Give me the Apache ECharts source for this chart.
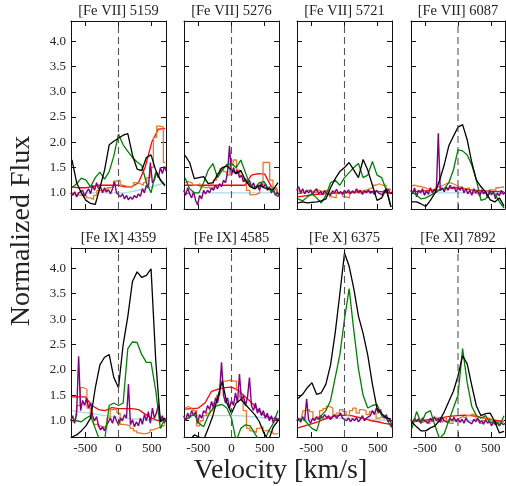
<!DOCTYPE html>
<html>
<head>
<meta charset="utf-8">
<script src="https://cdn.jsdelivr.net/npm/echarts@6/dist/echarts.min.js"></script>
<style>
html,body{margin:0;padding:0;background:#fff;}
#chart{width:506px;height:486px;}
</style>
</head>
<body>
<div id="chart"></div>
<script>
// ---------------- DATA ----------------
const panelTitles = ['[Fe VII] 5159','[Fe VII] 5276','[Fe VII] 5721','[Fe VII] 6087',
                     '[Fe IX] 4359','[Fe IX] 4585','[Fe X] 6375','[Fe XI] 7892'];
const xTickValues = [-500, 0, 500];
const yTickValues = [1.0, 1.5, 2.0, 2.5, 3.0, 3.5, 4.0];

// velocity grids (km/s)
const velBlackGreen = [-700,-630,-560,-490,-420,-350,-280,-210,-140,-70,0,70,140,210,280,350,420,490,560,630,700];
const velOrange = [-700,-650,-600,-550,-500,-450,-400,-350,-300,-250,-200,-150,-100,-50,0,50,100,150,200,250,300,350,400,450,500,550,600,650,700];
const velRed = [-700,-600,-500,-400,-300,-200,-100,0,100,200,300,400,500,600,700];
const velBlue = [-700,-500,-300,-100,100,300,500,700];
const velPurple = [-720,-690,-660,-630,-600,-570,-540,-510,-480,-450,-420,-390,-360,-330,-300,-270,-240,-210,-180,-150,-120,-90,-60,-30,0,30,60,90,120,150,180,210,240,270,300,330,360,390,420,450,480,510,540,570,600,630,660,690,720];

const blackFlux = [
  [1.65,1.2,1.0,0.85,0.79,0.77,1.1,1.45,1.95,2.02,2.08,2.14,2.17,1.75,1.47,1.44,1.7,1.75,1.45,1.25,1.15],
  [1.74,1.6,1.28,1.3,1.32,1.18,1.2,1.36,1.5,1.53,1.45,1.38,1.44,1.25,1.12,1.08,1.15,1.1,1.08,1.07,1.2],
  [0.8,0.82,0.8,0.81,0.82,0.84,0.88,1.1,1.28,1.42,1.5,1.6,1.45,1.3,1.66,1.45,1.15,0.85,0.9,1.08,0.72],
  [0.82,0.82,0.78,0.73,0.85,1.0,1.25,1.55,1.93,2.12,2.3,2.35,2.05,1.6,1.25,1.12,1.02,0.86,0.82,0.9,0.74],
  [0.68,0.72,0.8,0.9,1.05,1.64,2.1,2.25,2.3,1.85,1.65,2.5,3.05,3.74,3.93,3.82,3.86,3.99,2.2,0.98,1.05],
  [0.6,0.62,0.72,0.68,0.62,0.85,1.1,1.45,1.78,1.35,1.15,1.35,1.42,1.32,1.22,1.12,0.98,0.75,0.62,0.88,1.0],
  [1.44,1.52,1.65,1.75,1.52,1.55,1.72,2.1,2.73,3.5,4.3,4.04,3.6,3.06,2.72,2.29,1.72,1.24,1.14,1.06,1.03],
  [0.97,0.88,0.8,0.8,0.86,0.9,1.01,1.17,1.38,1.58,1.88,2.28,2.12,1.69,1.29,1.1,1.14,1.15,0.98,0.76,0.79]
];
const greenFlux = [
  [1.1,1.18,1.29,1.25,1.12,1.3,1.41,1.27,1.42,1.73,2.16,1.95,1.82,1.7,1.61,1.54,1.2,1.0,1.41,1.27,1.13],
  [1.3,1.08,1.0,1.0,1.2,1.45,1.58,1.3,1.45,1.56,1.58,1.5,1.65,1.4,1.15,1.1,1.2,1.22,1.07,1.03,0.92],
  [0.88,0.84,0.92,0.98,0.9,0.8,0.95,1.2,1.25,1.15,1.3,1.4,1.5,1.58,1.3,1.35,1.62,1.35,1.3,1.05,0.72],
  [1.02,0.95,0.88,0.9,0.95,1.0,1.05,1.08,1.2,1.45,1.85,1.83,1.75,1.55,1.25,0.85,0.88,1.0,0.98,0.82,0.7],
  [1.05,1.0,0.98,1.05,1.1,0.85,0.6,0.6,1.3,1.35,1.3,1.35,2.42,2.55,2.54,2.3,2.15,2.15,1.6,0.85,1.05],
  [1.0,1.08,1.12,0.95,0.88,1.1,1.25,1.3,1.32,1.25,1.05,0.6,0.85,0.92,0.9,0.75,0.6,0.6,0.8,0.95,1.2],
  [1.0,1.05,0.95,0.85,0.8,1.1,1.2,1.4,1.85,2.3,3.0,3.6,2.78,2.02,1.5,1.25,1.3,1.32,1.1,1.05,0.88],
  [0.85,1.18,0.95,1.15,1.2,0.9,0.65,0.75,1.0,1.25,1.5,2.42,1.75,1.28,1.1,1.05,1.1,0.95,1.0,0.9,1.1]
];
const orangeFlux = [
  [1.0,0.97,0.96,0.95,0.98,0.9,0.87,0.95,1.05,1.05,1.02,1.1,1.12,1.23,1.25,1.15,1.13,1.12,1.13,1.2,1.18,1.15,1.2,1.3,1.5,2.1,2.32,2.3,1.6],
  [1.2,1.22,1.2,1.15,1.18,1.12,1.1,1.12,1.08,1.25,1.38,1.48,1.42,1.35,1.55,1.65,1.45,1.32,1.22,1.05,0.96,0.97,1.0,1.15,1.6,1.6,1.25,1.1,1.02],
  [1.05,1.02,1.0,1.05,1.03,1.0,1.05,1.02,1.0,1.05,0.92,0.9,1.0,0.98,0.92,0.9,1.02,1.0,1.05,1.0,1.05,1.08,1.1,1.15,1.18,1.15,1.15,1.08,1.05],
  [1.14,1.15,1.13,1.12,1.1,1.08,1.05,1.08,1.12,1.15,1.18,1.2,1.18,1.15,1.12,1.1,1.08,1.1,1.05,1.0,0.98,1.0,1.03,1.02,1.06,1.05,1.1,1.12,1.1],
  [0.97,1.0,1.3,1.65,1.62,1.25,1.05,0.93,0.9,0.88,0.88,1.05,1.22,1.23,1.15,0.93,0.92,0.9,0.85,0.8,0.76,0.74,0.75,0.77,0.82,0.85,0.87,0.9,0.92],
  [1.25,1.28,1.25,1.2,0.9,1.0,1.1,1.15,1.2,1.35,1.5,1.72,1.78,1.8,1.78,1.78,1.6,1.45,1.2,0.85,0.8,0.77,0.85,0.88,0.8,0.82,0.78,0.74,0.75],
  [1.02,1.05,1.2,1.22,1.18,1.05,1.08,1.2,1.24,1.28,1.25,1.1,1.15,1.22,1.18,1.1,1.2,1.25,1.15,1.22,1.2,1.12,1.18,1.15,1.05,1.08,1.05,1.02,1.0],
  [1.0,0.98,1.02,0.97,1.0,0.95,1.0,1.05,1.02,0.98,1.05,1.0,0.95,1.02,1.05,1.08,1.05,1.1,1.13,1.1,1.02,0.95,1.0,1.05,1.02,0.98,0.95,0.98,1.0]
];
const redFlux = [
  [1.12,1.1,1.1,1.12,1.15,1.15,1.15,1.15,1.12,1.12,1.2,1.5,2.0,2.26,2.27],
  [1.15,1.15,1.15,1.15,1.15,1.15,1.15,1.15,1.15,1.15,1.35,1.38,1.37,1.12,1.05],
  [0.92,0.94,0.96,0.97,0.98,0.99,1.0,1.0,1.01,1.02,1.02,1.03,1.03,1.02,1.0],
  [1.03,1.03,1.04,1.05,1.06,1.08,1.1,1.1,1.08,1.06,1.05,1.04,1.03,1.03,1.02],
  [1.47,1.47,1.47,1.3,1.22,1.2,1.26,1.24,1.24,1.24,1.22,1.13,1.05,1.0,1.05],
  [1.23,1.24,1.25,1.35,1.58,1.62,1.65,1.66,1.6,1.48,1.36,1.2,1.1,1.05,1.03],
  [0.86,0.9,0.94,0.98,1.03,1.07,1.1,1.11,1.1,1.07,1.04,1.0,0.98,0.95,0.93],
  [0.98,1.0,1.01,1.03,1.05,1.07,1.09,1.1,1.11,1.1,1.08,1.05,1.02,1.0,0.98]
];
const blueFlux = [
  [1.0,1.0,1.0,1.0,1.0,1.05,1.12,1.2],
  [1.0,1.0,1.0,1.0,1.0,1.0,1.0,1.0],
  [1.0,1.0,1.0,1.0,1.0,1.0,1.0,1.0],
  [1.0,1.0,1.0,1.0,1.0,1.0,1.0,1.0],
  [1.2,1.16,1.12,1.08,1.05,1.03,1.01,1.0],
  [1.1,1.1,1.1,1.1,1.1,1.08,1.06,1.04],
  [1.0,1.02,1.04,1.05,1.05,1.04,1.02,1.0],
  [1.0,1.0,1.0,1.0,1.0,1.0,1.0,1.0]
];
const purpleFlux = [
  [1.0,0.95,1.02,0.92,1.0,0.97,1.05,0.93,1.02,1.08,0.98,1.15,1.05,1.2,1.08,1.12,1.0,1.1,1.02,1.06,0.98,1.08,1.22,1.0,1.02,0.92,0.98,0.88,0.95,0.86,0.92,0.87,0.95,0.9,0.98,0.93,1.08,1.0,1.15,1.1,1.6,1.2,1.25,1.4,1.3,1.5,1.38,1.52,1.42],
  [1.05,0.95,1.1,0.98,0.9,1.02,0.85,0.76,0.95,0.88,1.05,0.98,1.05,1.0,1.1,1.05,1.15,1.08,1.18,1.12,1.25,1.2,1.4,1.93,1.35,1.5,1.38,1.45,1.3,1.35,1.22,1.28,1.18,1.25,1.12,1.2,1.08,1.15,1.05,1.2,1.1,1.18,1.05,1.12,1.0,1.08,0.95,1.02,0.92],
  [1.05,1.12,1.0,1.08,0.98,1.05,1.0,1.06,0.97,1.04,1.08,0.98,1.03,0.96,1.05,0.99,1.02,0.95,1.04,1.0,1.07,0.98,1.03,0.97,1.05,1.0,1.06,0.98,1.04,0.99,1.08,1.0,1.05,0.97,1.04,1.0,1.06,0.99,1.03,0.97,1.05,1.0,1.02,0.96,1.05,1.0,1.07,0.98,1.02],
  [1.05,0.98,1.1,0.92,1.05,1.0,1.08,0.95,1.04,0.97,1.1,1.0,1.07,1.0,2.18,1.05,1.1,1.02,1.12,1.05,1.15,1.08,1.12,1.02,1.1,1.05,1.12,1.0,1.08,0.98,1.05,0.95,1.08,1.0,1.04,0.93,1.06,0.98,1.02,0.9,1.05,0.96,1.03,0.88,1.0,0.94,1.05,0.97,1.02],
  [1.0,1.1,0.95,1.15,2.27,1.2,1.4,1.3,1.45,1.25,1.35,1.1,1.0,1.08,0.9,0.82,0.88,0.8,0.92,0.98,1.05,0.95,1.1,1.0,0.92,1.05,1.0,1.12,1.05,1.72,0.92,1.02,0.88,0.98,0.9,1.05,0.93,1.12,1.0,1.18,0.95,1.25,1.05,1.15,1.32,1.0,1.1,0.95,1.05],
  [1.1,1.0,1.15,1.05,1.2,1.1,1.18,0.95,1.12,1.05,1.2,1.15,1.3,1.22,1.38,1.25,1.45,1.35,1.55,2.15,1.5,1.35,1.45,1.25,1.4,1.3,1.55,1.35,1.92,1.4,1.5,1.3,1.45,1.85,1.3,1.2,1.35,1.15,1.25,1.1,1.2,1.05,1.15,1.0,1.1,0.95,1.08,1.0,1.05],
  [1.0,1.05,0.97,1.08,1.0,1.43,1.02,0.95,1.05,1.0,1.08,1.02,1.1,1.05,1.12,1.06,1.1,1.02,1.08,1.12,1.05,1.1,1.15,1.05,1.08,1.0,1.05,0.98,1.04,1.0,1.06,0.98,1.03,1.1,1.0,1.05,1.02,1.1,1.2,1.12,1.25,1.15,1.22,1.1,1.05,1.12,0.98,1.02,0.85],
  [1.02,0.97,1.05,0.98,1.04,0.95,1.06,1.0,1.03,0.96,1.05,0.99,1.08,1.0,1.04,0.97,1.06,1.0,1.03,0.96,1.05,1.0,1.07,0.98,1.04,0.97,1.03,0.95,1.05,0.99,1.02,0.94,1.03,0.98,1.05,0.96,1.0,0.93,1.02,0.95,1.0,0.9,0.98,0.92,0.97,0.9,0.96,0.92,0.95]
];

// ---------------- LAYOUT / STYLE ----------------
const FONT = '"Liberation Serif", "DejaVu Serif", serif';
const panelLefts = [71, 184, 297, 411];
const panelWidths = [95, 95, 95, 94];
const rowTops = [21, 248];
const rowHeights = [188, 189];
const X_MIN = -715, X_MAX = 715, Y_MIN = 0.68, Y_MAX = 4.4;

const grids = [], xAxes = [], yAxes = [], series = [], graphics = [];

function pairs(xs, ys) { return xs.map((x, i) => [x, ys[i]]); }

for (let p = 0; p < 8; p++) {
  const row = Math.floor(p / 4), col = p % 4;
  grids.push({left: panelLefts[col], top: rowTops[row], width: panelWidths[col], height: rowHeights[row], show: false});
  const axisLine = {show: true, onZero: false, lineStyle: {color: '#111', width: 1}};
  ['bottom', 'top'].forEach(pos => {
    xAxes.push({
      gridIndex: p, type: 'value', position: pos, min: X_MIN, max: X_MAX,
      axisLine: axisLine,
      axisTick: {show: true, inside: true, length: 5, customValues: xTickValues, lineStyle: {color: '#111', width: 1}},
      axisLabel: {show: pos === 'bottom' && row === 1, customValues: xTickValues, margin: 5,
                  fontFamily: FONT, fontSize: 13, color: '#222', formatter: v => String(v)},
      splitLine: {show: false}
    });
  });
  ['left', 'right'].forEach(pos => {
    yAxes.push({
      gridIndex: p, type: 'value', position: pos, min: Y_MIN, max: Y_MAX,
      axisLine: axisLine,
      axisTick: {show: true, inside: true, length: 5, customValues: yTickValues, lineStyle: {color: '#111', width: 1}},
      axisLabel: {show: pos === 'left' && col === 0, customValues: yTickValues, margin: 5,
                  fontFamily: FONT, fontSize: 13, color: '#222', formatter: v => v.toFixed(1)},
      splitLine: {show: false}
    });
  });
  const xi = 2 * p, yi = 2 * p;
  const base = {type: 'line', xAxisIndex: xi, yAxisIndex: yi, showSymbol: false, symbol: 'none',
                silent: true, animation: false, clip: true};
  series.push(Object.assign({}, base, {data: pairs(velBlue, blueFlux[p]), lineStyle: {color: '#add8e6', width: 1.4}, z: 2}));
  series.push(Object.assign({}, base, {data: pairs(velRed, redFlux[p]), lineStyle: {color: '#ff0000', width: 1.3}, z: 3}));
  series.push(Object.assign({}, base, {data: pairs(velOrange, orangeFlux[p]), step: 'middle', lineStyle: {color: '#e8792a', width: 1.3}, z: 4}));
  series.push(Object.assign({}, base, {data: pairs(velPurple, purpleFlux[p]), lineStyle: {color: '#800080', width: 1.4}, z: 5}));
  series.push(Object.assign({}, base, {data: pairs(velBlackGreen, greenFlux[p]), lineStyle: {color: '#008000', width: 1.3}, z: 6}));
  series.push(Object.assign({}, base, {data: pairs(velBlackGreen, blackFlux[p]), lineStyle: {color: '#000000', width: 1.3}, z: 7}));
  // dashed zero-velocity marker
  series.push(Object.assign({}, base, {data: [[0, Y_MIN], [0, Y_MAX]], lineStyle: {color: '#555', width: 1.1, type: [7, 4]}, z: 8}));

  graphics.push({type: 'text', x: panelLefts[col] + panelWidths[col] / 2, y: rowTops[row] - 10,
    style: {text: panelTitles[p], fontFamily: FONT, fontSize: 14.5, fill: '#222', align: 'center', verticalAlign: 'middle'}});
}

graphics.push({type: 'text', x: 22, y: 231, rotation: Math.PI / 2,
  style: {text: 'Normalized Flux', fontFamily: FONT, fontSize: 28, fill: '#222', align: 'center', verticalAlign: 'middle'}});
graphics.push({type: 'text', x: 280.5, y: 471,
  style: {text: 'Velocity [km/s]', fontFamily: FONT, fontSize: 28, fill: '#222', align: 'center', verticalAlign: 'middle'}});

const chart = echarts.init(document.getElementById('chart'), null, {renderer: 'canvas', width: 506, height: 486});
chart.setOption({
  animation: false,
  backgroundColor: '#ffffff',
  grid: grids,
  xAxis: xAxes,
  yAxis: yAxes,
  series: series,
  graphic: graphics
});
</script>
</body>
</html>
